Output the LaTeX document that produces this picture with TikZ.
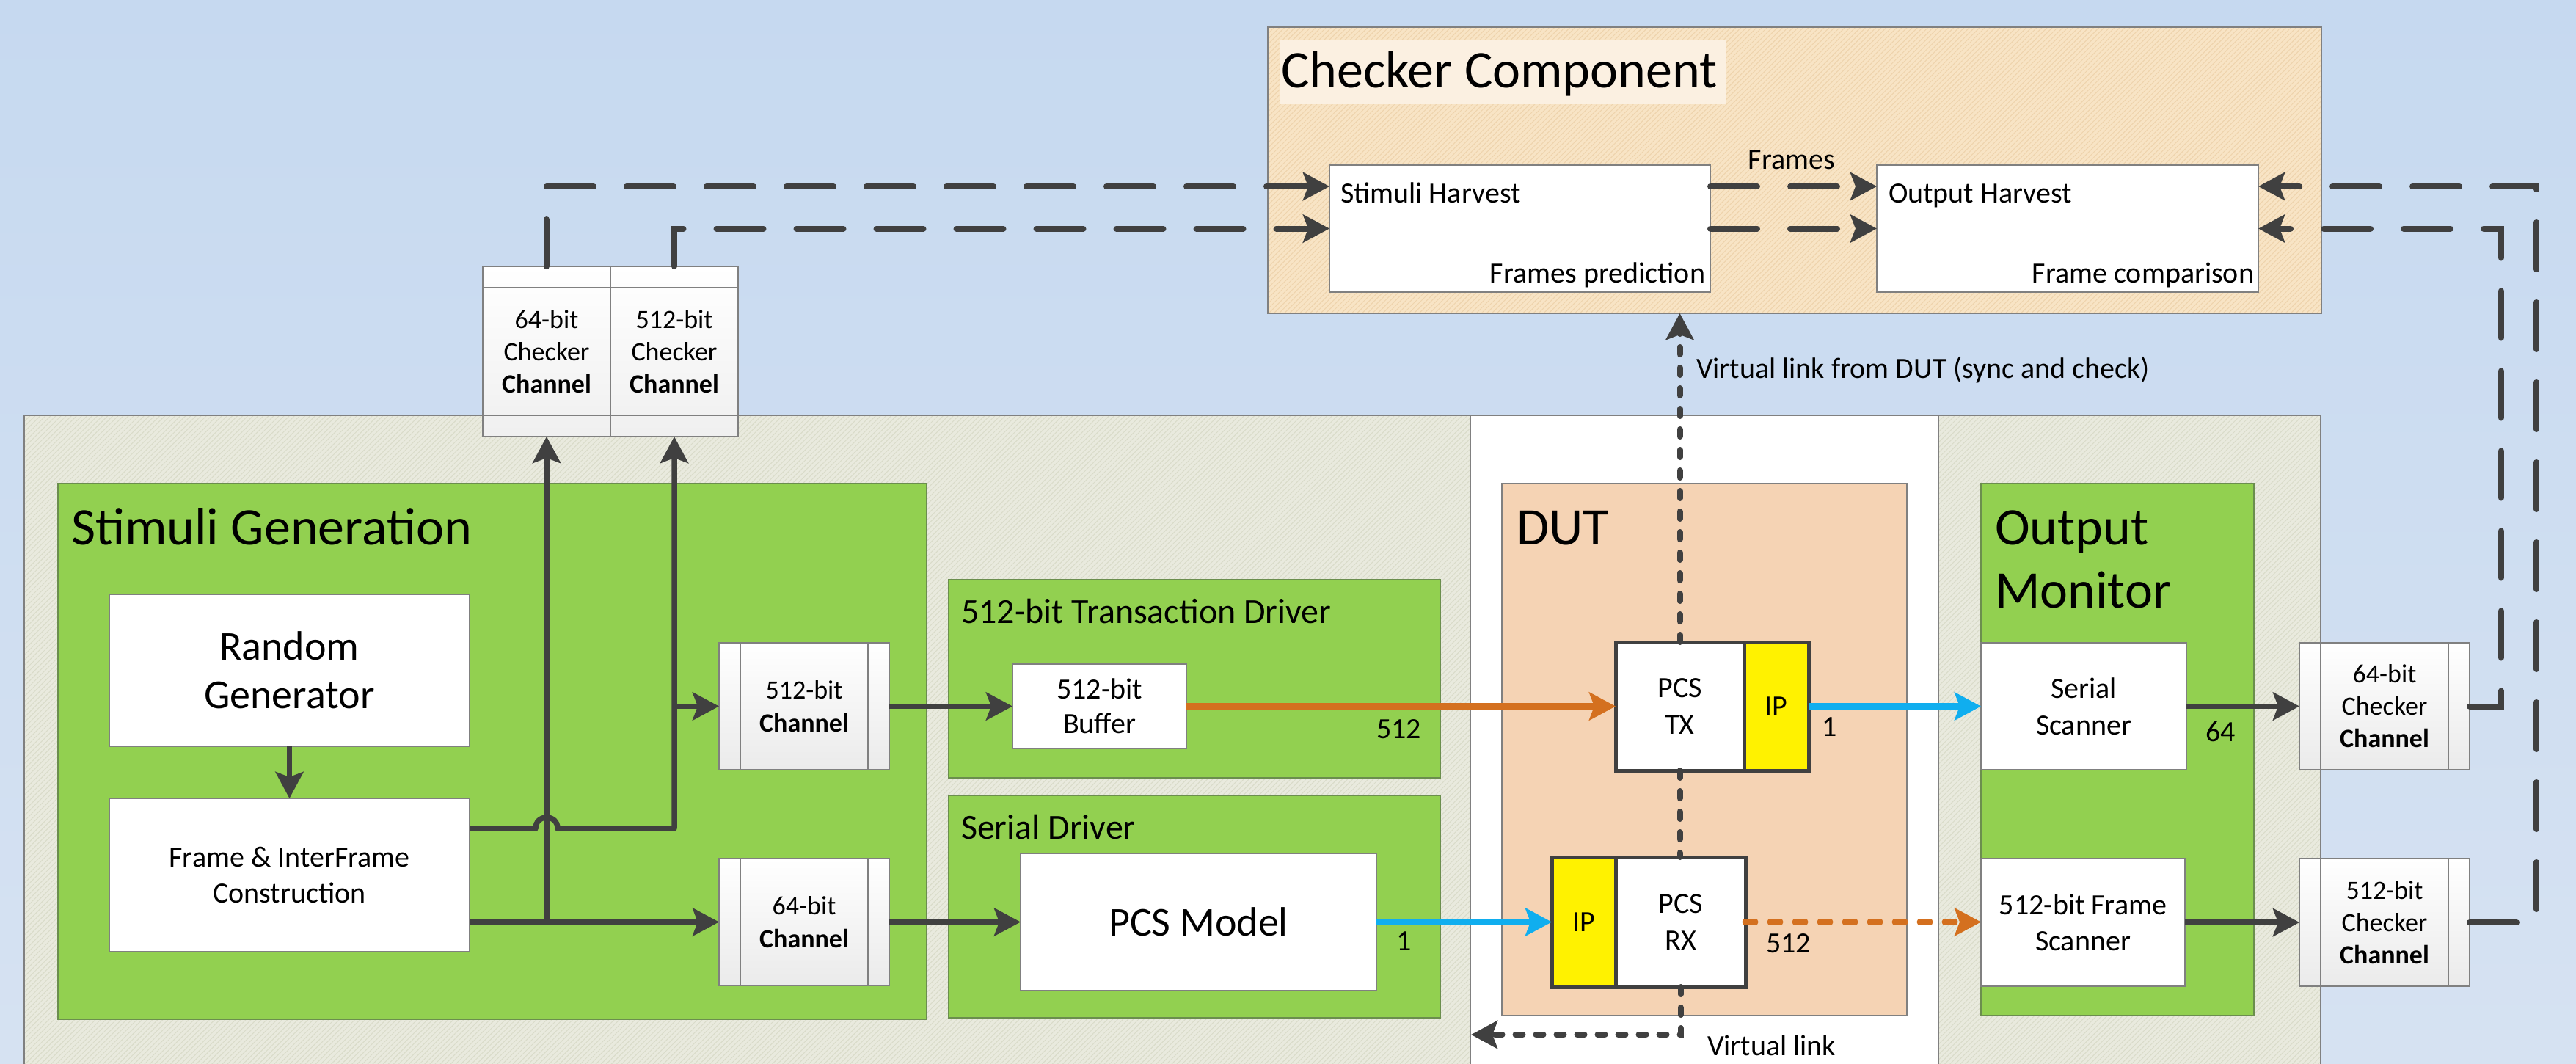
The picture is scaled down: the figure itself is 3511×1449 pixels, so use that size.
\documentclass[tikz,border=0pt]{standalone}
\usepackage{fontspec}
\setmainfont{Carlito}
\usetikzlibrary{arrows.meta,patterns.meta,calc}
\newcommand\myfs[2]{\fontsize{#1}{#2}\selectfont}
\definecolor{bgtop}{HTML}{C6D9F0}
\definecolor{bgbot}{HTML}{D6E2F2}
\definecolor{beige}{HTML}{E9EADE}
\definecolor{hatchc}{HTML}{D9DBC9}
\definecolor{chkfill}{HTML}{F8E4C5}
\definecolor{chkhatch}{HTML}{EED3AC}
\definecolor{titlebg}{HTML}{FBF0E1}
\definecolor{grn}{HTML}{92D050}
\definecolor{grnline}{HTML}{6B8E4E}
\definecolor{dutc}{HTML}{F5D3B4}
\definecolor{dk}{HTML}{404040}
\definecolor{org}{HTML}{D4701F}
\definecolor{blu}{HTML}{10AEEF}
\definecolor{boxgray}{HTML}{808080}
\begin{document}
\begin{tikzpicture}[x=1pt,y=-1pt,
  every node/.style={inner sep=0pt,outer sep=0pt},
  wbox/.style={draw=boxgray,line width=2pt,fill=white,align=center,font=\myfs{40}{49}},
  gbox/.style={draw=grnline,line width=2pt,fill=grn},
  chan/.style={draw=boxgray,line width=1.5pt,top color=white,bottom color=black!8,align=center,font=\myfs{36}{45},
    path picture={\draw[boxgray,line width=1.5pt]
      ([xshift=29pt]path picture bounding box.north west) -- ([xshift=29pt]path picture bounding box.south west)
      ([xshift=-29pt]path picture bounding box.north east) -- ([xshift=-29pt]path picture bounding box.south east);}},
  vchan/.style={draw=boxgray,line width=1.5pt,top color=white,bottom color=black!6,align=center,font=\myfs{36}{44},
    path picture={\draw[boxgray,line width=1.5pt]
      ([yshift=-29pt]path picture bounding box.north west) -- ([yshift=-29pt]path picture bounding box.north east)
      ([yshift=29pt]path picture bounding box.south west) -- ([yshift=29pt]path picture bounding box.south east);}},
  pcsb/.style={draw=dk,line width=5pt,fill=white,align=center,font=\myfs{40}{50}},
  ipb/.style={pcsb,fill=yellow},
  ttl/.style={anchor=base west,font=\myfs{72}{86}},
  subttl/.style={anchor=base west,font=\myfs{48}{58}},
  lbl/.style={anchor=base west,font=\myfs{40}{48}},
  headtip/.style={-{Stealth[length=36pt,width=38pt,inset=7pt]}},
  arr/.style={draw=dk,line width=7.5pt,line join=round,headtip},
  dasharr/.style={draw=dk,line width=8pt,line cap=round,dash pattern=on 64pt off 45pt,headtip},
  dotln/.style={draw=dk,line width=8pt,line cap=round,dash pattern=on 10pt off 18pt},
  dotarr/.style={dotln,headtip},
  oarr/.style={draw=org,line width=9pt,headtip},
  odot/.style={draw=org,line width=9pt,line cap=round,dash pattern=on 13pt off 21pt,headtip},
  barr/.style={draw=blu,line width=9pt,headtip},
]
\useasboundingbox (0,0) rectangle (3511,1449);
\clip (0,0) rectangle (3511,1449);
\shade[top color=bgtop,bottom color=bgbot] (0,0) rectangle (3511,1449);

% ---- large containers
\fill[beige] (33,566) rectangle (2004,1470);
\fill[beige] (2642,566) rectangle (3163,1470);
\fill[pattern={Lines[angle=45,distance=5pt,line width=1pt]},pattern color=hatchc] (33,566) rectangle (2004,1470);
\fill[pattern={Lines[angle=45,distance=5pt,line width=1pt]},pattern color=hatchc] (2642,566) rectangle (3163,1470);
\fill[white] (2004,566) rectangle (2642,1470);
\draw[boxgray,line width=2pt] (33,1470) -- (33,566) -- (3163,566) -- (3163,1470);
\draw[boxgray,line width=2pt] (2004,566) -- (2004,1470) (2642,566) -- (2642,1470);

% ---- checker component
\node[draw=boxgray,line width=2pt,fill=chkfill,minimum width=1436pt,minimum height=390pt] (chk) at (2446,232) {};
\fill[pattern={Lines[angle=45,distance=5pt,line width=1pt]},pattern color=chkhatch] (1729,38) rectangle (3163,426);
\fill[titlebg] (1744,54) rectangle (2353,142);
\node[ttl] (tChk) at (1746,119) {Checker Component};
\node[wbox,minimum width=519pt,minimum height=173pt] (sh) at (2071.5,311.5) {};
\node[wbox,minimum width=520pt,minimum height=173pt] (oh) at (2818,311.5) {};
\node[lbl] (tSH) at (1827,276) {Stimuli Harvest};
\node[lbl,anchor=base east] (tFP) at (2324,385) {Frames prediction};
\node[lbl] (tOH) at (2574,276) {Output Harvest};
\node[lbl,anchor=base east] (tFC) at (3072,385) {Frame comparison};
\node[lbl,anchor=base] (tFr) at (2442,230) {Frames};

% ---- top checker channels
\node[vchan,minimum width=174pt,minimum height=232pt] (col1) at (745,479) {64-bit\\Checker\\\textbf{Channel}};
\node[vchan,minimum width=174pt,minimum height=232pt] (col2) at (919,479) {512-bit\\Checker\\\textbf{Channel}};

% ---- stimuli generation
\node[gbox,minimum width=1184pt,minimum height=730pt] (sg) at (671,1024) {};
\node[ttl] (tSG) at (97,742) {Stimuli Generation};
\node[wbox,minimum width=491pt,minimum height=207pt,font=\myfs{56}{66}] (rg) at (394.5,913.5) {Random\\Generator};
\node[wbox,minimum width=491pt,minimum height=209pt] (fr) at (394.5,1192.5) {Frame \& InterFrame\\Construction};
\node[chan,minimum width=232pt,minimum height=173pt] (ch512) at (1096,962.5) {512-bit\\\textbf{Channel}};
\node[chan,minimum width=232pt,minimum height=173pt] (ch64) at (1096,1256.5) {64-bit\\\textbf{Channel}};

% ---- drivers
\node[gbox,minimum width=670pt,minimum height=270pt] (tdrv) at (1628,925) {};
\node[subttl] (tTD) at (1310,849) {512-bit Transaction Driver};
\node[wbox,minimum width=237pt,minimum height=115pt,font=\myfs{40}{47}] (buf) at (1498.5,962.5) {512-bit\\Buffer};
\node[gbox,minimum width=670pt,minimum height=303pt] (sdrv) at (1628,1235.5) {};
\node[subttl] (tSD) at (1310,1143) {Serial Driver};
\node[wbox,minimum width=485pt,minimum height=187pt,font=\myfs{56}{66}] (pcsm) at (1633.5,1256) {PCS Model};

% ---- DUT
\node[minimum width=552pt,minimum height=725pt,fill=dutc,draw=boxgray,line width=1.5pt] (dut) at (2323,1021.5) {};
\node[ttl] (tDUT) at (2067,742) {DUT};
\node[pcsb,minimum width=175pt,minimum height=175pt] (tx) at (2289.5,962.5) {PCS\\TX};
\node[ipb,minimum width=88pt,minimum height=175pt] (txip) at (2421,962.5) {IP};
\node[ipb,minimum width=87pt,minimum height=177pt] (rxip) at (2158.5,1256.5) {IP};
\node[pcsb,minimum width=177pt,minimum height=177pt] (rx) at (2290.5,1256.5) {PCS\\RX};

% ---- output monitor
\node[gbox,minimum width=372pt,minimum height=725pt] (om) at (2886,1021.5) {};
\node[ttl] (tOM1) at (2719,742) {Output};
\node[ttl] (tOM2) at (2719,828) {Monitor};
\node[wbox,minimum width=280pt,minimum height=173pt,font=\myfs{40}{50}] (sscan) at (2840,962.5) {Serial\\Scanner};
\node[wbox,minimum width=278pt,minimum height=174pt] (fscan) at (2839,1257) {512-bit Frame\\Scanner};
\node[chan,minimum width=232pt,minimum height=173pt,font=\myfs{36}{44}] (cc64) at (3250,962.5) {64-bit\\Checker\\\textbf{Channel}};
\node[chan,minimum width=232pt,minimum height=174pt,font=\myfs{36}{44}] (cc512) at (3250,1257) {512-bit\\Checker\\\textbf{Channel}};

% ---- helper coordinates
\coordinate (fu) at (640,1129);
\coordinate (xa) at (3409,0);
\coordinate (xb) at (3457,0);
\coordinate (vl) at (2005,1410);

% ---- solid connectors
\draw[arr] (rg.south) -- (fr.north);
\draw[arr] (fr.east |- ch64.west) -- (ch64.west);
\draw[arr] (col1.south |- ch64.west) -- (col1.south);
\draw[arr] (fu) -- (730,1129) .. controls (730,1109) and (760,1109) .. (760,1129) -- (col2.south |- fu) -- (col2.south);
\draw[arr] (col2.south |- ch512.west) -- (ch512.west);
\draw[arr] (ch512.east) -- (buf.west);
\draw[arr] (ch64.east) -- (ch64.east -| pcsm.west);
\draw[oarr] (buf.east) -- (tx.west);
\draw[barr] (ch64.east -| pcsm.east) -- (ch64.east -| rxip.west);
\draw[barr] (txip.east) -- (sscan.west);
\draw[odot] (rx.east) -- (rx.east -| fscan.west);
\draw[arr] (sscan.east) -- (cc64.west);
\draw[arr] (fscan.east) -- (cc512.west);

% ---- dashed checker links
\draw[dasharr] (col1.north) |- ([yshift=57.5pt]sh.west);
\draw[dasharr] (col2.north) |- (sh.west);
\draw[dasharr] ([yshift=57.5pt]sh.east) -- ([yshift=57.5pt]oh.west);
\draw[dasharr] (sh.east) -- (oh.west);
\draw[dasharr] (cc64.east) -- (cc64.east -| xa) |- (oh.east);
\draw[dasharr] (cc512.east) -- (cc512.east -| xb) |- ([yshift=57.5pt]oh.east);

% ---- virtual links
\draw[dotarr] (tx.north) -- (tx.north |- chk.south);
\draw[dotln] (tx.south) -- (tx.south |- rx.north);
\draw[dotarr] (rx.south) |- (vl);

% ---- labels
\node[lbl] (lVL) at (2312,515) {Virtual link from DUT (sync and check)};
\node[lbl] (lVL2) at (2327,1438) {Virtual link};
\node[lbl] (l512a) at (1876,1006) {512};
\node[lbl] (l1a) at (1903,1295) {1};
\node[lbl] (l1b) at (2483,1003) {1};
\node[lbl] (l512b) at (2407,1298) {512};
\node[lbl] (l64) at (3006,1010) {64};
\end{tikzpicture}
\end{document}
